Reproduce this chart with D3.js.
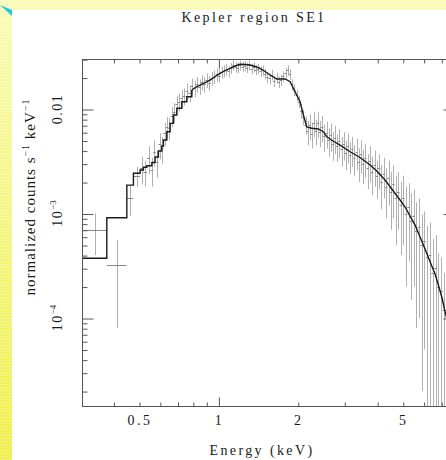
<!DOCTYPE html>
<html><head><meta charset="utf-8">
<script src="https://cdn.jsdelivr.net/npm/d3@7"></script>
<style>html,body{margin:0;padding:0;overflow:hidden;background:#fff}</style>
</head><body><svg id="c" width="446" height="460"></svg>
<script>
// ---------------- data ----------------
const title = "Kepler region SE1";
const xLabel = "Energy (keV)";
const xTickValues = [0.5, 1, 2, 5];
const xTickLabels = ["0.5", "1", "2", "5"];
const xMajorTicks = [1];
const xMinorTicks = [0.4, 0.5, 0.6, 0.7, 0.8, 0.9, 2, 3, 4, 5, 6, 7];
const yTickValues = [0.01, 1e-3, 1e-4];
const yTickBase = ["0.01", "10", "10"];
const yTickExp = ["", "\u22123", "\u22124"];
const yMajorTicks = [1e-4, 1e-3, 0.01];
const yMinorTicks = [2e-5, 3e-5, 4e-5, 5e-5, 6e-5, 7e-5, 8e-5, 9e-5,
  2e-4, 3e-4, 4e-4, 5e-4, 6e-4, 7e-4, 8e-4, 9e-4,
  2e-3, 3e-3, 4e-3, 5e-3, 6e-3, 7e-3, 8e-3, 9e-3, 0.02, 0.03];
const xDomain = [0.304, 7.89];
const yDomain = [1.44e-5, 0.0301];

// wide low-energy bins (edges) for first data points
const wideBinEdges = [0.304, 0.3775, 0.4496, 0.4763, 0.505];

// model (folded), binned: first part is a step histogram
const modelStepE = [0.304, 0.3775, 0.4496, 0.4763, 0.5048, 0.5196, 0.5353, 0.5594, 0.5754, 0.5923,
  0.6101, 0.6188, 0.6374, 0.656, 0.6752, 0.6955, 0.7264, 0.759, 0.7927];
const modelStepV = [3.73e-4, 9.12e-4, 1.87e-3, 2.425e-3, 2.607e-3, 2.768e-3, 2.868e-3, 3.076e-3, 3.473e-3, 3.963e-3,
  4.424e-3, 5.05e-3, 6.065e-3, 7.296e-3, 8.76e-3, 0.01016, 0.01175, 0.01311, 0.0152];
const modelE = [0.7927, 0.8231, 0.8524, 0.8905, 0.9301, 0.9716, 1.015, 1.06, 1.108, 1.157,
  1.209, 1.262, 1.319, 1.378, 1.439, 1.503, 1.57, 1.665, 1.79, 1.87,
  1.953, 2.04, 2.10, 2.163, 2.26, 2.394, 2.5, 2.576, 2.721, 2.893,
  3.157, 3.445, 3.76, 3.986, 4.284, 4.477, 4.885, 5.104, 5.331, 5.568,
  5.816, 6.074, 6.346, 6.63, 6.823, 7.047, 7.234, 7.4];
const modelV = [0.0152, 0.01624, 0.01697, 0.01793, 0.01894, 0.02046, 0.02196, 0.02336, 0.02452, 0.02579,
  0.02677, 0.02666, 0.02637, 0.02551, 0.02452, 0.02285, 0.02115, 0.01937, 0.01937, 0.01825,
  0.01464, 0.01175, 0.00876, 0.00673, 0.00654, 0.00644, 0.006065, 0.00543, 0.00494, 0.00452,
  0.0039, 0.003435, 0.002911, 0.00255, 0.002092, 0.001805, 0.001346, 0.001154, 0.000946, 0.000776,
  0.000596, 0.000457, 0.0003457, 0.0002637, 0.0002069, 0.0001554, 0.0001149, 0.000092];

// data points (energy, normalized counts, 1-sigma error)
const dataE = [0.341, 0.412, 0.463, 0.490, 0.512, 0.527, 0.545, 0.560, 0.572, 0.585,
  0.600, 0.613, 0.625, 0.640, 0.652, 0.665, 0.680, 0.694, 0.710, 0.726,
  0.742, 0.760, 0.778, 0.795, 0.812, 0.830, 0.848, 0.866, 0.885, 0.905,
  0.925, 0.945, 0.966, 0.987, 1.008, 1.030, 1.050, 1.072, 1.094, 1.117,
  1.140, 1.163, 1.187, 1.210, 1.235, 1.260, 1.285, 1.310, 1.336, 1.362,
  1.390, 1.418, 1.446, 1.475, 1.505, 1.535, 1.566, 1.597, 1.630, 1.662,
  1.695, 1.728, 1.762, 1.797, 1.833, 1.870, 1.905, 1.943, 1.980, 2.020,
  2.060, 2.100, 2.140, 2.180, 2.220, 2.260, 2.300, 2.340, 2.385, 2.430,
  2.475, 2.520, 2.570, 2.620, 2.670, 2.720, 2.770, 2.820, 2.875, 2.930,
  2.985, 3.040, 3.100, 3.160, 3.220, 3.280, 3.340, 3.400, 3.470, 3.540,
  3.610, 3.680, 3.750, 3.830, 3.910, 3.990, 4.070, 4.150, 4.240, 4.330,
  4.420, 4.510, 4.610, 4.710, 4.810, 4.920, 5.030, 5.140, 5.260, 5.380,
  5.500, 5.630, 5.760, 5.900, 6.040, 6.190, 6.340, 6.500, 6.660, 6.830,
  7.000, 7.180, 7.360];
const dataV = [7.0e-4, 3.2e-4, 1.4e-3, 2.3e-3, 2.7e-3, 2.5e-3, 3.4e-3, 2.6e-3, 3.9e-3, 3.1e-3,
  4.6e-3, 4.2e-3, 5.9e-3, 6.8e-3, 6.6e-3, 8.6e-3, 9.4e-3, 0.0112, 0.0118, 0.0128,
  0.0133, 0.0148, 0.0142, 0.0166, 0.0158, 0.0172, 0.0164, 0.0181, 0.0173, 0.0189,
  0.0178, 0.0196, 0.0203, 0.0214, 0.0209, 0.0226, 0.0231, 0.0238, 0.0229, 0.0245,
  0.0262, 0.0251, 0.0249, 0.0261, 0.0254, 0.0258, 0.0249, 0.0262, 0.0244, 0.0252,
  0.0238, 0.0243, 0.0229, 0.0234, 0.0217, 0.0201, 0.0196, 0.0212, 0.0185, 0.0199,
  0.0182, 0.0189, 0.0205, 0.0221, 0.0235, 0.0215, 0.0172, 0.0152, 0.0135, 0.0118,
  0.0096, 0.0084, 0.0071, 0.0061, 0.0070, 0.0058, 0.0074, 0.0062, 0.0073, 0.0060,
  0.0067, 0.0055, 0.0059, 0.0050, 0.0056, 0.0046, 0.0053, 0.0044, 0.0049, 0.0041,
  0.0046, 0.0038, 0.0044, 0.0036, 0.0041, 0.0034, 0.0039, 0.0031, 0.0037, 0.0030,
  0.0034, 0.0027, 0.0032, 0.0025, 0.0029, 0.0023, 0.0027, 0.0020, 0.0024, 0.0018,
  0.0022, 0.0016, 0.0019, 0.0014, 0.0016, 0.0012, 0.0014, 0.0010, 0.00115, 0.00085,
  0.00095, 0.00068, 0.00075, 0.00050, 0.00055, 0.00038, 0.00040, 0.00027, 0.00030, 0.00020,
  0.00018, 0.00012, 0.00010];
const dataErr = [3.0e-4, 2.4e-4, 4.5e-4, 5e-4, 8e-4, 7e-4, 1.0e-3, 8e-4, 1.1e-3, 9e-4,
  1.3e-3, 1.2e-3, 1.5e-3, 1.6e-3, 1.6e-3, 1.9e-3, 2.0e-3, 2.2e-3, 2.3e-3, 2.4e-3,
  2.5e-3, 2.7e-3, 2.6e-3, 2.9e-3, 2.8e-3, 2.9e-3, 2.8e-3, 3.0e-3, 2.9e-3, 3.0e-3,
  2.9e-3, 3.0e-3, 3.0e-3, 3.1e-3, 3.0e-3, 3.0e-3, 3.0e-3, 3.0e-3, 2.9e-3, 3.0e-3,
  3.0e-3, 2.9e-3, 2.9e-3, 2.9e-3, 2.9e-3, 2.9e-3, 2.8e-3, 2.9e-3, 2.8e-3, 2.8e-3,
  2.7e-3, 2.7e-3, 2.6e-3, 2.6e-3, 2.5e-3, 2.4e-3, 2.4e-3, 2.5e-3, 2.3e-3, 2.4e-3,
  2.3e-3, 2.3e-3, 2.4e-3, 2.5e-3, 2.6e-3, 2.4e-3, 2.1e-3, 1.9e-3, 1.7e-3, 1.6e-3,
  1.5e-3, 1.4e-3, 1.4e-3, 1.6e-3, 1.9e-3, 1.6e-3, 2.0e-3, 1.7e-3, 2.0e-3, 1.7e-3,
  1.9e-3, 1.6e-3, 1.7e-3, 1.5e-3, 1.7e-3, 1.4e-3, 1.6e-3, 1.3e-3, 1.5e-3, 1.3e-3,
  1.4e-3, 1.2e-3, 1.4e-3, 1.2e-3, 1.3e-3, 1.1e-3, 1.3e-3, 1.1e-3, 1.3e-3, 1.1e-3,
  1.2e-3, 1.0e-3, 1.2e-3, 1.0e-3, 1.1e-3, 9e-4, 1.0e-3, 9e-4, 1.0e-3, 9e-4,
  1.0e-3, 9e-4, 1.0e-3, 9e-4, 9e-4, 8e-4, 9e-4, 8e-4, 8e-4, 7e-4,
  7.5e-4, 6e-4, 6.5e-4, 4.8e-4, 5e-4, 3.8e-4, 4.2e-4, 3.0e-4, 3.2e-4, 2.2e-4,
  2.0e-4, 1.5e-4, 1.2e-4];

// ---------------- drawing ----------------
const W = 446, H = 460;
const svg = d3.select("#c");
const defs = svg.append("defs");
const grad = defs.append("linearGradient").attr("id", "bg").attr("x1", 0).attr("y1", 0).attr("x2", 0).attr("y2", 1);
grad.append("stop").attr("offset", "0%").attr("stop-color", "#fafab6");
grad.append("stop").attr("offset", "100%").attr("stop-color", "#eef04a");
const pat = defs.append("pattern").attr("id", "scan").attr("width", 4).attr("height", 3).attr("patternUnits", "userSpaceOnUse");
pat.append("rect").attr("width", 4).attr("height", 1).attr("fill", "#ffffff").attr("opacity", 0.25);

svg.append("rect").attr("width", W).attr("height", H).attr("fill", "url(#bg)");
svg.append("rect").attr("width", W).attr("height", H).attr("fill", "url(#scan)");
svg.append("polygon").attr("points", "0,5 12,10 12,16").attr("fill", "#1ec8e8");
svg.append("rect").attr("x", 12).attr("y", 10).attr("width", W - 12).attr("height", H - 10).attr("fill", "#ffffff");

const serif = "'Liberation Serif','Times New Roman',Times,serif";
const pL = 82, pR = 455, pT = 59, pB = 406;
const x = d3.scaleLog().domain(xDomain).range([pL, pR]);
const y = d3.scaleLog().domain(yDomain).range([pB, pT]);

const plot = svg.append("g");
plot.append("clipPath").attr("id", "clip").append("rect")
  .attr("x", pL).attr("y", pT).attr("width", pR - pL).attr("height", pB - pT);
const inner = plot.append("g").attr("clip-path", "url(#clip)");

// data error bars
const n = dataE.length;
const edges = [];
for (let i = 0; i < n; i++) {
  let lo, hi;
  if (i < wideBinEdges.length - 1) { lo = wideBinEdges[i]; hi = wideBinEdges[i + 1]; }
  else {
    lo = i > 0 ? Math.sqrt(dataE[i - 1] * dataE[i]) : dataE[i];
    hi = i < n - 1 ? Math.sqrt(dataE[i] * dataE[i + 1]) : dataE[i] * 1.012;
    if (i === wideBinEdges.length - 1) lo = Math.max(lo, wideBinEdges[i]);
  }
  edges.push([lo, hi]);
}
const dg = inner.append("g").attr("stroke", "#a2a2a2").attr("stroke-width", 1).attr("fill", "none");
for (let i = 0; i < n; i++) {
  const v = dataV[i], e = dataErr[i];
  const yTop = y(v + e);
  const yBot = v - e > yDomain[0] ? y(v - e) : pB + 2;
  const cx = Math.round(x(dataE[i])) + 0.5;
  dg.append("line").attr("x1", cx).attr("x2", cx).attr("y1", yTop).attr("y2", yBot)
    .attr("opacity", 0.85);
  const cy = Math.round(y(v)) + 0.5;
  dg.append("line").attr("x1", x(edges[i][0])).attr("x2", x(edges[i][1])).attr("y1", cy).attr("y2", cy)
    .attr("stroke", "#888");
}

// model
const stepPts = modelStepE.map((e, i) => [x(e), y(modelStepV[i])]);
stepPts.push([x(modelE[0]), y(modelV[0])]);
inner.append("path").attr("d", d3.line().curve(d3.curveStepAfter)(stepPts))
  .attr("fill", "none").attr("stroke", "#1a1a1a").attr("stroke-width", 1.4);
inner.append("path").attr("d", d3.line().x((d, i) => x(modelE[i])).y((d, i) => y(modelV[i]))(modelE))
  .attr("fill", "none").attr("stroke", "#1a1a1a").attr("stroke-width", 1.4);

// frame
const axCol = "#555";
plot.append("rect").attr("x", pL + 0.5).attr("y", pT + 0.5).attr("width", pR - pL).attr("height", pB - pT)
  .attr("fill", "none").attr("stroke", axCol).attr("stroke-width", 1);

function ticks(axisFn, vals, size, tr) {
  const g = plot.append("g").attr("transform", tr)
    .call(axisFn.tickValues(vals).tickSize(size).tickFormat(""));
  g.select(".domain").remove();
  g.selectAll("line").attr("stroke", axCol);
}
ticks(d3.axisBottom(x), xMinorTicks, -4, `translate(0.5,${pB + 0.5})`);
ticks(d3.axisBottom(x), xMajorTicks, -9, `translate(0.5,${pB + 0.5})`);
ticks(d3.axisTop(x), xMinorTicks, -4, `translate(0.5,${pT + 0.5})`);
ticks(d3.axisTop(x), xMajorTicks, -9, `translate(0.5,${pT + 0.5})`);
ticks(d3.axisLeft(y), yMinorTicks, -5, `translate(${pL + 0.5},0.5)`);
ticks(d3.axisLeft(y), yMajorTicks, -11, `translate(${pL + 0.5},0.5)`);
ticks(d3.axisRight(y), yMinorTicks, -5, `translate(${pR + 0.5},0.5)`);
ticks(d3.axisRight(y), yMajorTicks, -12, `translate(${pR + 0.5},0.5)`);

// x tick labels
svg.append("g").selectAll("text").data(xTickValues).join("text")
  .attr("x", d => x(d) + 1).attr("y", 425)
  .attr("text-anchor", "middle").attr("font-family", serif).attr("font-size", 14)
  .attr("letter-spacing", 2.5).attr("fill", "#1a1a1a")
  .text((d, i) => xTickLabels[i]);

// y tick labels (rotated)
yTickValues.forEach((v, i) => {
  const t = svg.append("text").attr("transform", `translate(62,${y(v)}) rotate(-90)`)
    .attr("text-anchor", "middle").attr("font-family", serif).attr("font-size", 14)
    .attr("letter-spacing", 1.5).attr("fill", "#1a1a1a");
  t.append("tspan").text(yTickBase[i]);
  if (yTickExp[i]) t.append("tspan").attr("dy", -6).attr("font-size", 9).attr("letter-spacing", 0).text(yTickExp[i]);
});

// axis titles
svg.append("text").attr("x", 254).attr("y", 22).attr("text-anchor", "middle")
  .attr("font-family", serif).attr("font-size", 14).attr("letter-spacing", 2.4).attr("fill", "#1a1a1a").text(title);
svg.append("text").attr("x", 262).attr("y", 455).attr("text-anchor", "middle")
  .attr("font-family", serif).attr("font-size", 14).attr("letter-spacing", 2.4).attr("fill", "#1a1a1a").text(xLabel);
const yl = svg.append("text").attr("transform", "translate(35,197) rotate(-90)").attr("text-anchor", "middle")
  .attr("font-family", serif).attr("font-size", 15).attr("letter-spacing", 1).attr("fill", "#1a1a1a");
yl.append("tspan").text("normalized counts s");
yl.append("tspan").attr("dy", -6).attr("font-size", 10).text("\u22121");
yl.append("tspan").attr("dy", 6).text(" keV");
yl.append("tspan").attr("dy", -6).attr("font-size", 10).text("\u22121");
</script></body></html>
